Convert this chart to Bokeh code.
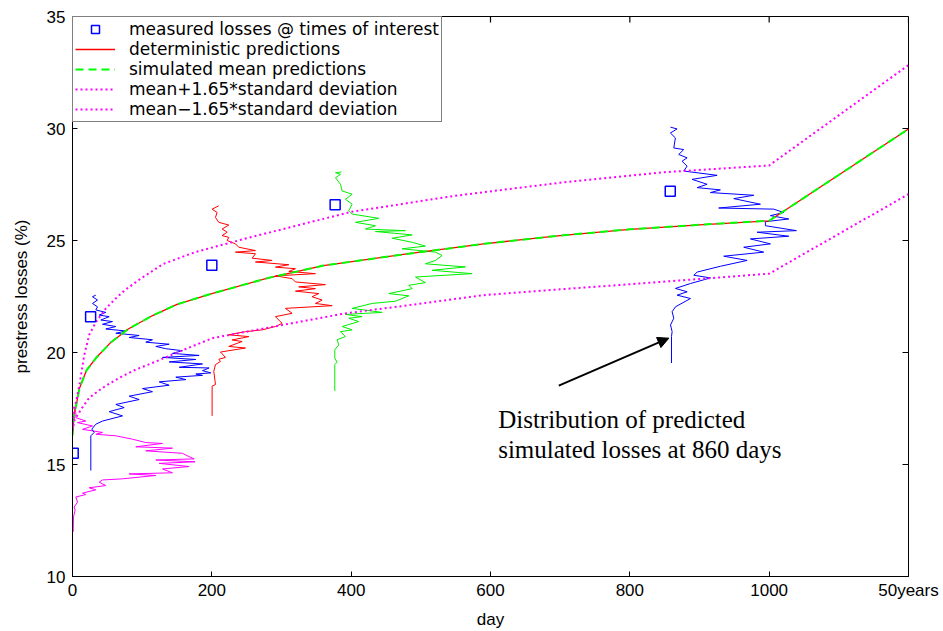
from bokeh.plotting import figure
from bokeh.models import (Range1d, FixedTicker, Legend, LegendItem,
                          Arrow, NormalHead, ColumnDataSource)
from bokeh.core.properties import value
from bokeh.embed import file_html
from bokeh.resources import INLINE

# ---------------- data ----------------
x_ticks = [0, 200, 400, 600, 800, 1000, 1200]
x_tick_labels = {1200: "50years"}
y_ticks = [10, 15, 20, 25, 30, 35]

measured_day = [1, 26, 200, 377, 858]
measured_loss = [15.5, 21.6, 23.9, 26.6, 27.2]

curve_day = [0, 2, 5, 10, 20, 35, 55, 80, 115, 150, 200, 280, 360, 480, 590, 700, 800, 900, 1000, 1200]
deterministic_loss = [16.3, 17.2, 17.6, 18.4, 19.2, 19.8, 20.45, 21.05, 21.65, 22.15, 22.63, 23.32,
                      23.88, 24.4, 24.85, 25.22, 25.5, 25.7, 25.88, 29.98]
sim_mean_loss = [16.3, 17.2, 17.6, 18.4, 19.2, 19.8, 20.45, 21.05, 21.65, 22.15, 22.63, 23.32,
                 23.88, 24.4, 24.85, 25.22, 25.5, 25.7, 25.88, 29.98]

upper_day = [0, 2.5, 10, 17, 24, 34, 48, 62, 75, 98, 130, 176, 250, 400, 550, 700, 850, 1000, 1200]
upper_loss = [16.6, 17.4, 18.57, 19.9, 20.79, 21.38, 21.97, 22.41, 22.78, 23.3, 23.95, 24.48, 25.1,
              26.28, 27.0, 27.58, 28.05, 28.35, 32.83]

lower_day = [0, 3, 14, 24, 43, 67, 91, 120, 148, 177, 201, 250, 300, 390, 480, 590, 700, 844, 1000, 1200]
lower_loss = [16.5, 17.0, 17.54, 17.98, 18.42, 18.87, 19.24, 19.6, 19.97, 20.34, 20.64, 20.93, 21.22,
              21.74, 22.1, 22.56, 22.82, 23.15, 23.52, 27.07]

# simulated distributions (drawn sideways)
dist0_day = [0.5, 4.8, 4.8, 19.1, 7.2, 28.7, 14.4, 43.1, 33.5, 62.2, 86.1, 105.2, 129.2, 90.9, 143.5,
             105.2, 157.9, 167.4, 174.6, 119.6, 176.0, 124.4, 167.4, 129.2, 143.5, 81.3, 119.6, 71.8,
             43.1, 38.3, 47.8, 23.9, 33.5, 14.4, 19.1, 4.8, 7.2, 2.4, 3.8, 1.4, 1.0]
dist0_loss = [17.6, 17.31, 17.09, 16.94, 16.87, 16.72, 16.57, 16.43, 16.35, 16.28, 16.13, 15.98, 15.94,
              15.79, 15.73, 15.61, 15.50, 15.35, 15.25, 15.20, 15.12, 15.05, 14.91, 14.80, 14.63, 14.58,
              14.51, 14.36, 14.31, 14.21, 14.06, 13.96, 13.87, 13.72, 13.66, 13.55, 13.32, 13.10, 12.96,
              12.66, 12.0]

dist28_day = [26.3, 26.3, 31.1, 27.7, 33.5, 43.1, 71.8, 52.6, 74.2, 62.2, 95.7, 81.3, 114.8, 100.5,
              138.7, 124.4, 162.7, 148.3, 186.6, 177.0, 198.5, 186.6, 196.1, 153.1, 186.6, 138.7, 177.0,
              129.2, 181.8, 143.5, 157.9, 133.9, 119.6, 138.7, 105.2, 114.8, 81.3, 95.7, 62.2, 76.6,
              47.8, 62.2, 43.1, 57.4, 40.7, 52.6, 38.3, 47.8, 33.5, 35.9, 28.7, 35.9, 28.7, 33.5]
dist28_loss = [14.73, 16.28, 16.43, 16.58, 16.80, 16.94, 17.17, 17.36, 17.54, 17.68, 17.90, 18.05, 18.25,
               18.39, 18.54, 18.69, 18.79, 18.90, 18.98, 19.04, 19.09, 19.19, 19.31, 19.34, 19.49, 19.58,
               19.69, 19.78, 19.87, 19.96, 20.08, 20.17, 20.27, 20.37, 20.46, 20.57, 20.67, 20.76, 20.86,
               20.96, 21.05, 21.16, 21.26, 21.38, 21.45, 21.60, 21.67, 21.79, 21.90, 22.04, 22.19, 22.34,
               22.49, 22.56]

dist200_day = [200.4, 200.4, 205.2, 202.8, 205.2, 212.4, 210.0, 219.6, 212.4, 248.3, 224.3, 243.5, 229.1,
               253.1, 224.3, 248.3, 272.2, 291.3, 300.9, 296.1, 291.3, 315.2, 305.7, 372.7, 348.7, 358.3,
               343.9, 353.5, 320.0, 348.7, 324.8, 363.1, 320.0, 315.2, 291.3, 348.7, 310.5, 320.0, 291.3,
               310.5, 262.6, 286.5, 257.9, 262.6, 233.9, 262.6, 238.7, 233.9, 222.0, 224.3, 214.8, 222.0,
               214.8, 224.3, 210.0, 205.2, 207.6, 200.4, 210.0]
dist200_loss = [17.17, 18.50, 18.57, 19.16, 19.46, 19.60, 19.70, 19.78, 20.02, 20.20, 20.27, 20.49, 20.56,
                20.71, 20.79, 20.93, 21.01, 21.16, 21.30, 21.45, 21.60, 21.75, 21.97, 22.09, 22.19, 22.34,
                22.49, 22.63, 22.74, 22.85, 22.93, 23.03, 23.15, 23.30, 23.42, 23.52, 23.62, 23.74, 23.81,
                23.92, 24.04, 24.11, 24.21, 24.41, 24.48, 24.55, 24.70, 24.85, 25.00, 25.14, 25.22, 25.37,
                25.51, 25.69, 25.81, 26.03, 26.25, 26.40, 26.55]

dist380_day = [376.5, 376.5, 379.8, 376.5, 376.5, 382.2, 379.8, 391.8, 384.6, 401.4, 387.0, 410.9, 396.6,
               415.7, 391.8, 444.4, 401.4, 430.1, 463.6, 482.7, 454.0, 487.5, 482.7, 506.6, 492.3, 573.6,
               516.2, 564.0, 506.6, 521.0, 530.5, 521.0, 473.1, 506.6, 487.5, 458.8, 487.5, 434.9, 477.9,
               420.5, 434.9, 406.2, 439.6, 401.4, 396.6, 401.4, 391.8, 401.4, 387.0, 384.6, 377.5, 384.6,
               377.5, 386.1]
dist380_loss = [18.28, 19.46, 19.57, 19.75, 20.12, 20.34, 20.57, 20.71, 20.93, 21.01, 21.16, 21.38, 21.53,
                21.60, 21.70, 21.79, 21.97, 22.19, 22.29, 22.53, 22.63, 22.85, 23.00, 23.12, 23.37, 23.52,
                23.67, 23.82, 23.96, 24.11, 24.33, 24.48, 24.63, 24.75, 24.92, 25.10, 25.25, 25.40, 25.44,
                25.51, 25.66, 25.81, 25.99, 26.18, 26.33, 26.62, 26.84, 27.07, 27.21, 27.51, 27.80, 27.95,
                28.03, 28.06]

dist860_day = [859.8, 859.8, 860.7, 858.4, 863.1, 860.7, 865.5, 887.1, 867.9, 882.3, 865.5, 887.1, 915.8,
               891.8, 896.6, 930.1, 968.3, 934.8, 992.2, 963.5, 1001.8, 973.1, 1028.1, 982.7, 1039.1,
               994.6, 994.6, 1028.1, 1001.8, 1020.9, 1006.6, 927.6, 987.4, 949.2, 977.9, 915.7, 930.0,
               896.6, 910.9, 889.4, 925.3, 877.4, 882.2, 875.0, 882.2, 870.2, 877.4, 863.1, 865.4, 858.3,
               867.8, 858.3]
dist860_loss = [19.53, 20.71, 20.93, 21.23, 21.53, 21.82, 22.04, 22.41, 22.56, 22.71, 22.86, 23.08, 23.33,
                23.45, 23.59, 23.85, 24.11, 24.30, 24.48, 24.70, 24.85, 25.07, 25.19, 25.37, 25.44, 25.66,
                25.84, 25.96, 26.11, 26.25, 26.40, 26.45, 26.62, 26.87, 27.02, 27.14, 27.26, 27.36, 27.51,
                27.73, 27.91, 28.10, 28.32, 28.54, 28.69, 28.84, 29.06, 29.13, 29.58, 29.80, 29.98, 30.06]

note_lines = ["Distribution of predicted", "simulated losses at 860 days"]
note_x = 611
note_y = [17.0, 15.67]
arrow_from = (698, 18.52)
arrow_to = (856, 20.64)

# ---------------- figure ----------------
p = figure(width=943, height=631, x_range=Range1d(0, 1200), y_range=Range1d(10, 35),
           output_backend="svg", toolbar_location=None,
           min_border_left=72, min_border_right=35, min_border_top=16, min_border_bottom=51)
p.xgrid.visible = False
p.ygrid.visible = False
p.outline_line_color = "black"
p.outline_line_width = 1
p.background_fill_color = "white"
p.border_fill_color = "white"

TICK_FONT = "Liberation Sans"

for ax, ticks in ((p.xaxis[0], x_ticks), (p.yaxis[0], y_ticks)):
    ax.ticker = FixedTicker(ticks=ticks)
    ax.major_tick_in = 5
    ax.major_tick_out = 0
    ax.minor_tick_in = 0
    ax.minor_tick_out = 0
    ax.axis_line_color = "black"
    ax.major_tick_line_color = "black"
    ax.major_label_text_font = TICK_FONT
    ax.major_label_text_font_size = "17px"
    ax.major_label_text_color = "black"
    ax.axis_label_text_font = TICK_FONT
    ax.axis_label_text_font_size = "17px"
    ax.axis_label_text_font_style = "normal"
    ax.axis_label_text_color = "black"

p.xaxis[0].major_label_overrides = x_tick_labels
p.xaxis[0].major_label_standoff = 4
p.yaxis[0].major_label_standoff = 7
p.xaxis[0].axis_label = "day"
p.yaxis[0].axis_label = "prestress losses (%)"
p.xaxis[0].axis_label_standoff = 7
p.yaxis[0].axis_label_standoff = 13

# inward ticks on top and right borders (box on)
p.ray(x=x_ticks, y=[35] * len(x_ticks), length=6, length_units="screen",
      angle=-90, angle_units="deg", line_color="black", line_width=1.2)
p.ray(x=[1200] * len(y_ticks), y=y_ticks, length=6, length_units="screen",
      angle=180, angle_units="deg", line_color="black", line_width=1.2)

# distributions
p.line(dist0_day, dist0_loss, line_color="#ff00ff", line_width=1)
p.line(dist28_day, dist28_loss, line_color="#0000ff", line_width=1)
p.line(dist200_day, dist200_loss, line_color="#ff0000", line_width=1)
p.line(dist380_day, dist380_loss, line_color="#00ee00", line_width=1)
p.line(dist860_day, dist860_loss, line_color="#0000ff", line_width=1)

# curves
r_det = p.line(curve_day, deterministic_loss, line_color="#ff0000", line_width=1.3)
r_mean = p.line(curve_day, sim_mean_loss, line_color="#00ff00", line_width=2, line_dash="8 5")
r_up = p.line(upper_day, upper_loss, line_color="#ff00ff", line_width=2, line_dash="2 3")
r_lo = p.line(lower_day, lower_loss, line_color="#ff00ff", line_width=2, line_dash="2 3")
r_meas = p.scatter(measured_day, measured_loss, marker="square", size=10,
                   fill_color="white", fill_alpha=1, line_color="#0000ff", line_width=1.5)

# annotation
p.add_layout(Arrow(end=NormalHead(size=11, fill_color="black", line_color="black"),
                   x_start=arrow_from[0], y_start=arrow_from[1],
                   x_end=arrow_to[0], y_end=arrow_to[1],
                   line_color="black", line_width=2))
note_src = ColumnDataSource(dict(x=[note_x, note_x], y=note_y, t=note_lines))
p.text(x="x", y="y", text="t", source=note_src, text_font=value("Liberation Serif"),
       text_font_size="25px", text_baseline="alphabetic", text_align="left", text_color="black")

legend = Legend(items=[
    LegendItem(label="measured losses @ times of interest", renderers=[r_meas]),
    LegendItem(label="deterministic predictions", renderers=[r_det]),
    LegendItem(label="simulated mean predictions", renderers=[r_mean]),
    LegendItem(label="mean+1.65*standard deviation", renderers=[r_up]),
    LegendItem(label="mean\u22121.65*standard deviation", renderers=[r_lo]),
], location="top_left")
legend.margin = 0
legend.padding = 2
legend.spacing = 0
legend.label_height = 20
legend.glyph_height = 20
legend.glyph_width = 40
legend.label_standoff = 14
legend.border_line_color = "black"
legend.border_line_width = 1
legend.background_fill_color = "white"
legend.background_fill_alpha = 1
legend.label_text_font = "DejaVu Sans"
legend.label_text_font_size = "17px"
legend.label_text_color = "black"
p.add_layout(legend)

open("out.html", "w").write(file_html(p, INLINE))
